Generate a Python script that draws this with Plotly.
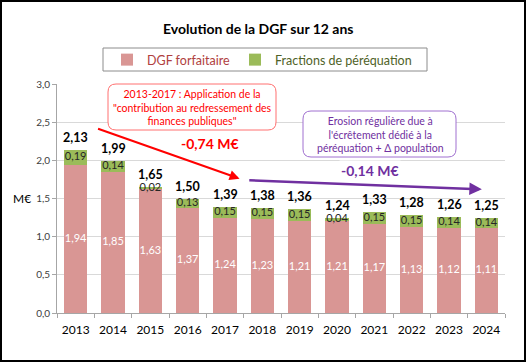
import plotly.graph_objects as go

years = ["2013", "2014", "2015", "2016", "2017", "2018", "2019", "2020", "2021", "2022", "2023", "2024"]
dgf_forfaitaire = [1.94, 1.85, 1.63, 1.37, 1.24, 1.23, 1.21, 1.21, 1.17, 1.13, 1.12, 1.11]
fractions_perequation = [0.19, 0.14, 0.02, 0.13, 0.15, 0.15, 0.15, 0.04, 0.15, 0.15, 0.14, 0.14]
totals = [2.13, 1.99, 1.65, 1.50, 1.39, 1.38, 1.36, 1.24, 1.33, 1.28, 1.26, 1.25]

FONT = "Lato"
PINK = "#D99694"
GREEN = "#9BBB59"
RED = "#FF0000"
PURPLE = "#7030A0"


def fr(v):
    return f"{v:.2f}".replace(".", ",")


xs = list(range(len(years)))
stack_tops = [a + b for a, b in zip(dgf_forfaitaire, fractions_perequation)]

fig = go.Figure()
fig.add_trace(go.Bar(
    x=xs, y=dgf_forfaitaire, width=0.62, marker=dict(color=PINK, line=dict(width=0)),
    name="<span style='color:#B0403E'>DGF forfaitaire</span>", hoverinfo="skip",
))
fig.add_trace(go.Bar(
    x=xs, y=fractions_perequation, width=0.62, marker=dict(color=GREEN, line=dict(width=0)),
    name="<span style='color:#4F6228'>Fractions de péréquation</span>", hoverinfo="skip",
))
fig.add_trace(go.Scatter(
    x=xs, y=[v / 2 for v in dgf_forfaitaire], mode="text",
    text=[fr(v) for v in dgf_forfaitaire], textposition="middle center",
    textfont=dict(family=FONT, size=11, color="white"), showlegend=False, hoverinfo="skip",
))
fig.add_trace(go.Scatter(
    x=xs, y=[a + b / 2 for a, b in zip(dgf_forfaitaire, fractions_perequation)], mode="text",
    text=[fr(v) for v in fractions_perequation], textposition="middle center",
    textfont=dict(family=FONT, size=11, color="#262626"), showlegend=False, hoverinfo="skip",
))

L, R, T, B = 57, 21, 84, 49
W, H = 526, 362
pw, ph = W - L - R, H - T - B


def px(xp):
    return (xp - L) / pw


def py(yp):
    return (H - B - yp) / ph


def rounded(x0, y0, x1, y1, r=8):
    rx, ry = r / pw, r / ph
    X0, X1 = px(x0), px(x1)
    Y0, Y1 = py(y1), py(y0)
    return (f"M{X0+rx},{Y1} L{X1-rx},{Y1} Q{X1},{Y1} {X1},{Y1-ry} "
            f"L{X1},{Y0+ry} Q{X1},{Y0} {X1-rx},{Y0} L{X0+rx},{Y0} "
            f"Q{X0},{Y0} {X0},{Y0+ry} L{X0},{Y1-ry} Q{X0},{Y1} {X0+rx},{Y1} Z")


shapes = [
    dict(type="path", xref="paper", yref="paper", path=rounded(108, 84, 276, 130),
         line=dict(color="#FF7070", width=1), fillcolor="white", layer="above"),
    dict(type="path", xref="paper", yref="paper", path=rounded(303, 111, 456, 157),
         line=dict(color="#A070D0", width=1), fillcolor="white", layer="above"),
    dict(type="rect", xref="paper", yref="paper", x0=px(103), x1=px(427), y0=py(71), y1=py(48),
         line=dict(color="#8C8C8C", width=1), fillcolor="white", layer="above"),
    dict(type="rect", xref="paper", yref="paper", x0=px(1), x1=px(525), y0=py(361), y1=py(1),
         line=dict(color="black", width=2), fillcolor="rgba(0,0,0,0)", layer="above"),
]

C = dict(xanchor="center", yanchor="middle", showarrow=False)
annotations = [
    dict(xref="paper", yref="paper", x=px(258), y=py(28), text="<b>Evolution de la DGF sur 12 ans</b>",
         font=dict(family=FONT, size=14, color="black"), **C),
    dict(xref="paper", yref="y", x=px(22), y=1.5, text="M€",
         font=dict(family=FONT, size=12, color="black"), **C),
    dict(xref="paper", yref="paper", x=px(192), y=py(107),
         text="2013-2017 : Application de la<br>\"contribution au redressement des<br>finances publiques\"",
         font=dict(family=FONT, size=10.5, color=RED), align="center", **C),
    dict(xref="paper", yref="paper", x=px(210), y=py(143), text="<b>-0,74 M€</b>",
         font=dict(family=FONT, size=14, color=RED), **C),
    dict(xref="paper", yref="paper", x=px(380), y=py(134),
         text="Erosion régulière due à<br>l'écrêtement dédié à la<br>péréquation + Δ population",
         font=dict(family=FONT, size=10.5, color=PURPLE), align="center", **C),
    dict(xref="paper", yref="paper", x=px(370), y=py(170), text="<b>-0,14 M€</b>",
         font=dict(family=FONT, size=14, color=PURPLE), bgcolor="white", **C),
    dict(xref="x", yref="y", axref="x", ayref="y", x=4.39, y=1.76, ax=0.56, ay=2.42,
         text="", showarrow=True, arrowhead=2, arrowsize=1, arrowwidth=2, arrowcolor=RED),
    dict(xref="x", yref="y", axref="x", ayref="y", x=10.88, y=1.62, ax=4.61, ay=1.74,
         text="", showarrow=True, arrowhead=2, arrowsize=1, arrowwidth=2.5, arrowcolor=PURPLE),
]
for xi, top, tot in zip(xs, stack_tops, totals):
    annotations.append(dict(xref="x", yref="y", x=xi, y=top, text="<b>" + fr(tot) + "</b>",
                            showarrow=False, xanchor="center", yanchor="bottom", yshift=3,
                            font=dict(family=FONT, size=12.5, color="black")))

fig.update_layout(
    width=W, height=H, margin=dict(l=L, r=R, t=T, b=B),
    barmode="stack", separators=", ",
    paper_bgcolor="white", plot_bgcolor="white",
    font=dict(family=FONT, size=12, color="black"),
    shapes=shapes, annotations=annotations,
    legend=dict(orientation="h", x=px(262), y=py(60), xanchor="center", yanchor="middle",
                traceorder="normal", borderwidth=0, bgcolor="rgba(0,0,0,0)",
                font=dict(family=FONT, size=12.5), itemwidth=30),
    hovermode=False,
)
fig.update_xaxes(
    range=[-0.5, 11.5], tickvals=xs, ticktext=years, ticks="", showgrid=False,
    showline=True, linecolor="#A6A6A6", linewidth=1, tickfont=dict(family=FONT, size=12, color="black"),
    ticklabelstandoff=6,
    minor=dict(tickvals=[i - 0.5 for i in range(len(years) + 1)], ticks="outside", ticklen=4,
               tickcolor="#A6A6A6", showgrid=False),
    zeroline=False, fixedrange=True,
)
fig.update_yaxes(
    range=[0, 3.0], dtick=0.5, tickformat=".1f", showgrid=True, gridcolor="#D9D9D9",
    showline=True, linecolor="#A6A6A6", ticks="outside", ticklen=4, tickcolor="#A6A6A6",
    tickfont=dict(family=FONT, size=10, color="#404040"), zeroline=False, fixedrange=True,
)

fig.write_html("out.html", config={"displayModeBar": False},
               post_script="document.body.style.margin='0';document.body.style.overflow='hidden';")
